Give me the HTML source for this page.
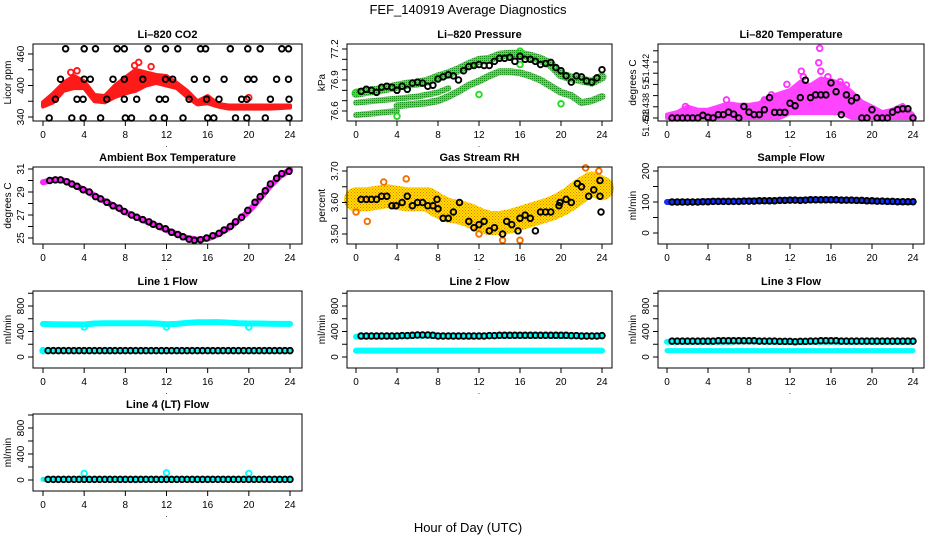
<!DOCTYPE html>
<html><head><meta charset="utf-8"><title>FEF_140919 Average Diagnostics</title>
<style>
html,body{margin:0;padding:0;background:#fff;}
svg{display:block;font-family:"Liberation Sans",Arial,sans-serif;}
</style></head>
<body>
<svg id="chart" width="936" height="540" viewBox="0 0 936 540" xmlns="http://www.w3.org/2000/svg">
<defs>
<pattern id="rhpat" width="3" height="3" patternUnits="userSpaceOnUse"><rect width="3" height="3" fill="#ffe000"/><rect width="1" height="1" fill="#f07000"/><rect x="1.5" y="1.5" width="1" height="1" fill="#f07000"/></pattern>
<pattern id="grpat" width="2" height="2" patternUnits="userSpaceOnUse"><rect width="2" height="2" fill="#33ee33"/><rect width="1" height="1" fill="#1a901a"/></pattern>
</defs>
<text x="468" y="14" text-anchor="middle" font-size="13">FEF_140919  Average Diagnostics</text>
<text x="468" y="532" text-anchor="middle" font-size="13">Hour of Day (UTC)</text>
</svg>
<script>
// ---------- DATA ----------
const xTicks=[0,4,8,12,16,20,24];
// CO2
const co2Hours=[2.2,4.0,5.1,7.2,7.9,10.2,11.9,13.1,15.3,15.8,18.2,19.9,21.1,23.2,23.85,
1.7,4.0,4.6,6.8,7.9,9.7,11.9,12.6,14.7,15.9,17.6,19.9,20.5,22.7,23.85,
1.2,3.3,3.9,6.2,7.9,9.1,11.3,11.9,14.2,15.9,17.1,19.3,19.8,22.1,23.9,
0.6,2.8,3.9,5.6,8.0,8.6,10.7,11.8,13.6,16.0,16.6,18.7,19.8,21.6,23.9];
const co2Values=[470,470,470,470,470,470,470,470,470,470,470,470,470,470,470,
412,412,412,412,412,412,412,412,412,412,412,412,412,412,412,
374,374,374,374,374,374,374,374,374,374,374,374,374,374,374,
338,338,338,338,338,338,338,338,338,338,338,338,338,338,338];
const hourly=[0,1,2,3,4,5,6,7,8,9,10,11,12,13,14,15,16,17,18,19,20,21,22,23,24];
const co2RedUpper=[368,385,405,418,408,382,380,400,415,430,425,420,418,405,390,370,380,365,362,362,362,362,362,362,362];
const co2RedLower=[360,368,390,395,395,370,368,378,385,390,400,405,400,395,378,364,366,360,356,356,356,356,356,357,358];
const co2OutHours=[9.3,2.7,10.5,20,8.9,3.3];
const co2OutValues=[444,425,436,377,438,428];
// Pressure
const presA=[76.77,76.79,76.8,76.82,76.84,76.86,76.87,76.89,76.93,76.96,77.0,77.05,77.09,77.1,77.14,77.15,77.15,77.13,77.1,77.05,76.95,76.92,76.9,76.88,76.93];
const presB=[76.68,76.69,76.7,76.71,76.72,76.73,76.74,76.76,76.78,76.82,null,null,null,null,null,null,null,null,null,null,null,null,null,null,null];
const presC=[null,null,null,null,76.65,76.66,76.67,76.68,76.7,76.74,76.79,76.85,76.89,76.94,76.98,76.98,76.97,76.94,76.9,76.84,76.78,76.75,76.68,76.7,76.74];
const presD=[76.56,76.57,76.58,76.59,76.6,null,null,null,null,null,null,null,null,null,null,null,null,null,null,null,null,null,null,null,null];
const halfHours=[0.5,1,1.5,2,2.5,3,3.5,4,4.5,5,5.5,6,6.5,7,7.5,8,8.5,9,9.5,10,10.5,11,11.5,12,12.5,13,13.5,14,14.5,15,15.5,16,16.5,17,17.5,18,18.5,19,19.5,20,20.5,21,21.5,22,22.5,23,23.5,24];
const presBlack=[76.79,76.81,76.8,76.78,76.83,76.84,76.83,76.8,76.84,76.81,76.87,76.88,76.87,76.84,76.85,76.91,76.93,76.95,76.94,76.9,76.99,77.03,77.04,77.05,77.04,77.04,77.08,77.11,77.11,77.12,77.08,77.13,77.1,77.1,77.08,77.05,77.06,77.07,77.02,76.99,76.94,76.88,76.94,76.93,76.89,76.88,76.92,77.0];
const presOutHours=[0,4,12,16,16,20,8];
const presOutValues=[76.78,76.55,76.76,77.18,77.05,76.67,76.92];
// Li-820 temperature
const tempBlack=[51.438,51.438,51.438,51.438,51.438,51.438,51.43819,51.43805,51.438,51.43824,51.43824,51.43842,51.43828,51.438,51.43882,51.43842,51.43824,51.43824,51.43859,51.43946,51.4384,51.4384,51.4384,51.43906,51.43887,51.43946,51.4407,51.43946,51.43965,51.43965,51.43965,51.44051,51.43988,51.43824,51.43965,51.43922,51.43946,51.438,51.438,51.43859,51.438,51.438,51.438,51.43842,51.43859,51.43866,51.43866,51.438];
const tempUpper=[51.43824,51.43842,51.43882,51.43859,51.43859,51.43882,51.43906,51.43894,51.43894,51.43906,51.43953,51.43976,51.44,51.44059,51.44035,51.44082,51.4407,51.44047,51.43988,51.43918,51.43882,51.43842,51.43859,51.43894,51.43824];
const tempLower=[51.438,51.438,51.438,51.438,51.438,51.438,51.438,51.438,51.438,51.438,51.438,51.438,51.43835,51.43835,51.43835,51.43835,51.43835,51.43835,51.438,51.438,51.438,51.438,51.438,51.438,51.438];
const tempOutHours=[14.9,14.8,15.0,13.1,15.7,11.7,13.3,5.8,9.5,1.8,10.2,16.9,17.5];
const tempOutValues=[51.44298,51.44195,51.44134,51.44134,51.44094,51.4404,51.44094,51.43929,51.43929,51.43882,51.43965,51.44059,51.44035];
const tempTicks=[51.438,51.4388,51.4396,51.4404,51.4412,51.442,51.4428];
const tempLabelValues=[51.43765,51.4388,51.4404,51.4416];
const tempLabels=['51.438','51.438','51','51.442'];
// Ambient box temperature
const ambHours=[0.65,1.2,1.7,2.3,2.8,3.3,3.9,4.5,5.1,5.6,6.2,6.8,7.4,7.9,8.6,9.1,9.7,10.3,10.7,11.3,11.9,12.5,13.1,13.6,14.2,14.7,15.3,15.9,16.5,17.1,17.6,18.2,18.7,19.3,19.9,20.6,21.1,21.6,22.1,22.7,23.2,23.9];
const ambValues=[30.0,30.05,30.05,29.9,29.7,29.5,29.2,29.0,28.6,28.4,28.1,27.8,27.6,27.3,27.0,26.8,26.6,26.4,26.2,26.0,25.8,25.5,25.3,25.1,24.9,24.8,24.85,25.0,25.2,25.4,25.7,26.0,26.4,26.8,27.4,28.1,28.6,29.1,29.7,30.2,30.6,30.8];
const ambBand=[29.85,30.05,30.0,29.6,29.2,28.7,28.2,27.75,27.25,26.85,26.45,26.1,25.7,25.35,25.0,24.85,24.95,25.3,25.85,26.55,27.35,28.35,29.45,30.35,30.95];
// Gas stream RH
const rhHours=[0.5,1,1.5,2,2.5,3,3.5,3.9,4.5,5,5.5,6,6.5,7,7.5,7.9,8,8.5,9,9.5,10.1,11,11.5,12,12.5,13,13.5,14.3,14.7,15.2,15.8,16,16.5,17,17.5,18,18.5,19,19.8,19.9,20.5,21,21.6,22,22.7,23.2,23.8,23.8,23.9];
const rhValues=[3.61,3.61,3.61,3.61,3.62,3.62,3.59,3.59,3.60,3.62,3.59,3.60,3.60,3.59,3.59,3.61,3.58,3.55,3.55,3.57,3.60,3.54,3.52,3.53,3.54,3.51,3.52,3.50,3.54,3.53,3.51,3.55,3.56,3.55,3.51,3.57,3.57,3.57,3.59,3.60,3.61,3.60,3.66,3.65,3.62,3.64,3.67,3.62,3.57];
const rhBand=[3.61,3.61,3.615,3.62,3.615,3.61,3.61,3.61,3.59,3.575,3.57,3.56,3.545,3.535,3.535,3.54,3.55,3.56,3.57,3.58,3.595,3.615,3.64,3.66,3.645];
const rhOutHours=[4.9,1.1,14.3,16,22.4,23.7,12,0,2.7];
const rhOutValues=[3.675,3.54,3.48,3.48,3.71,3.70,3.50,3.57,3.665];
// Sample flow
const sampleBand=[100,100,100,100,102,102,102,102,104,104,104,105,106,106,107,107,107,106,105,104,103,102,101,100,100];
const sampleBlack=[100,100,100,100,100,100,101,101,102,102,102,102,102,102,103,103,103,104,104,104,104,105,105,106,106,105,106,107,107,107,107,107,107,106,106,106,105,105,104,104,103,103,102,102,101,101,101,101];
// Line flows
const line1Cyan=[520,515,512,512,510,525,528,530,530,530,528,525,515,520,535,545,545,548,540,530,525,525,522,520,520];
const line1Low=[100,100,100,100,100,100,100,100,100,100,100,100,100,100,100,100,100,100,100,100,100,100,100,100,100];
const line1Black=[100,100,100,100,100,100,100,100,100,100,100,100,100,100,100,100,100,100,100,100,100,100,100,100,100,100,100,100,100,100,100,100,100,100,100,100,100,100,100,100,100,100,100,100,100,100,100,100];
const line1OutHours=[4,12,20,0];
const line1OutValues=[470,470,470,100];
const line2Cyan=[320,322,322,325,330,330,335,335,330,328,325,320,325,330,332,335,335,335,335,333,330,330,330,330,330];
const line2Low=[100,100,100,100,100,100,100,100,100,100,100,100,100,100,100,100,100,100,100,100,100,100,100,100,100];
const line2Black=[330,330,330,330,330,330,330,330,335,335,340,345,345,345,340,330,330,330,330,330,330,330,330,330,330,335,335,340,340,340,340,340,340,340,340,340,340,340,340,340,340,335,335,330,330,330,330,335];
const line3Cyan=[240,240,240,240,240,240,240,245,245,245,240,240,235,235,240,240,240,240,240,240,240,240,240,240,240];
const line3Low=[100,100,100,100,100,100,100,100,100,100,100,100,100,100,100,100,100,100,100,100,100,100,100,100,100];
const line3Black=[250,250,250,250,250,250,250,250,250,255,255,255,255,255,255,255,255,250,250,250,250,245,245,245,240,245,245,250,250,255,255,255,255,250,250,250,250,250,250,250,250,250,250,250,250,250,250,250];
const line4Cyan=[10,10,10,10,10,10,10,10,10,10,10,10,10,10,10,10,10,10,10,10,10,10,10,10,10];
const line4Black=[10,10,10,10,10,10,10,10,10,10,10,10,10,10,10,10,10,10,10,10,10,10,10,10,10,10,10,10,10,10,10,10,10,10,10,10,10,10,10,10,10,10,10,10,10,10,10,10];
const line4OutHours=[4,12,20];
const line4OutValues=[100,110,100];

// ---------- DRAWING ----------
const NS='http://www.w3.org/2000/svg';
const svg=document.getElementById('chart');
function mk(tag,attrs,parent){const e=document.createElementNS(NS,tag);for(const k in attrs)e.setAttribute(k,attrs[k]);(parent||svg).appendChild(e);return e;}
const COLS=[{l:33,r:302,x0:43,x24:290},{l:347,r:612,x0:356,x24:602},{l:658,r:924,x0:667,x24:913}];
const ROWS=[44,167,291,414];
const H=77;

function panel(name,col,row,title,ylab,v0,o0,v1,o1,ticks,labVals,labs,labSize){
  const c=COLS[col],top=ROWS[row],bot=top+H;
  const g=mk('g',{});
  
  
  const x=h=>c.x0+(c.x24-c.x0)*h/24;
  const p0=top+o0,p1=top+o1;
  const y=v=>p0+(v-v0)*(p1-p0)/(v1-v0);
  const t=mk('text',{x:(c.l+c.r)/2,y:top-6,'text-anchor':'middle','font-size':'11','font-weight':'bold'},g);
  t.textContent=title;
  
  
  const pl=mk('g',{},g);
  
  
  const box=mk('rect',{x:c.l,y:top,width:c.r-c.l,height:H,fill:'none',stroke:'#000','stroke-width':1},g);
  
  
  const xa=mk('g',{},g);
  
  
  mk('line',{x1:x(0),x2:x(24),y1:bot,y2:bot,stroke:'#000'},xa);
  xTicks.forEach(v=>{
    mk('line',{x1:x(v),x2:x(v),y1:bot,y2:bot+5,stroke:'#000'},xa);
    const tl=mk('text',{x:x(v),y:bot+17,'text-anchor':'middle','font-size':'10'},xa);
    tl.textContent=v;
    
    
  });
  const dot=mk('text',{x:x(12),y:bot+26,'text-anchor':'middle','font-size':'8'},xa);
  dot.textContent='.';
  const ya=mk('g',{},g);
  
  
  ticks.forEach(v=>{const yy=y(v);mk('line',{x1:c.l-5,x2:c.l,y1:yy,y2:yy,stroke:'#000'},ya);});
  labVals.forEach((v,i)=>{
    const yy=y(v),xx=c.l-9;
    const tl=mk('text',{x:xx,y:yy,'text-anchor':'middle','font-size':labSize||'10',transform:'rotate(-90 '+xx+' '+yy+')'},ya);
    tl.textContent=labs[i];
    
    
  });
  const xx=c.l-22,yy=(top+bot)/2;
  const yl=mk('text',{x:xx,y:yy,'text-anchor':'middle','font-size':'10',transform:'rotate(-90 '+xx+' '+yy+')'},g);
  yl.textContent=ylab;
  
  
  return {x,y,g:pl};
}
function band(P,hours,vals,color,w,name){
  let seg=[];const segs=[];
  vals.forEach((v,i)=>{if(v==null){if(seg.length)segs.push(seg);seg=[];}else seg.push(P.x(hours[i]).toFixed(1)+','+P.y(v).toFixed(1));});
  if(seg.length)segs.push(seg);
  segs.forEach(s=>{
    const pl=mk('polyline',{points:s.join(' '),fill:'none',stroke:color,'stroke-width':w,'stroke-linecap':'round','stroke-linejoin':'round'},P.g);
    
    
  });
}
function area(P,hours,lo,hi,color,name){
  const pts=hours.map((h,i)=>P.x(h).toFixed(1)+','+P.y(hi[i]).toFixed(1)).concat(hours.slice().reverse().map((h,j)=>{const i=hours.length-1-j;return P.x(h).toFixed(1)+','+P.y(lo[i]).toFixed(1);}));
  const pg=mk('polygon',{points:pts.join(' '),fill:color,stroke:color,'stroke-width':4,'stroke-linejoin':'round'},P.g);
  
  
}
function pts(P,hours,vals,color,name,r,sw){
  hours.forEach((h,i)=>{
    const c=mk('circle',{cx:P.x(h).toFixed(1),cy:P.y(vals[i]).toFixed(1),r:r||2.8,fill:'none',stroke:color,'stroke-width':sw||1.9},P.g);
    
    
  });
}

// Li-820 CO2
let P=panel('co2',0,0,'Li\u2013820 CO2','Licor ppm',340,73,460,10,[340,370,400,430,460],[340,400,460],['340','400','460']);
area(P,hourly,co2RedLower,co2RedUpper,'#ff1a1a','co2-red-band');
pts(P,co2OutHours,co2OutValues,'#ff1a1a','co2-red-point');
pts(P,co2Hours,co2Values,'#000','co2-black-point');

// Pressure
P=panel('pressure',1,0,'Li\u2013820 Pressure','kPa',76.6,67,77.2,5,[76.6,76.7,76.8,76.9,77.0,77.1,77.2],[76.6,76.9,77.2],['76.6','76.9','77.2']);
band(P,hourly,presA,'url(#grpat)',9,'pressure-green-band');
band(P,hourly,presB,'url(#grpat)',6,'pressure-green-band');
band(P,hourly,presC,'url(#grpat)',7,'pressure-green-band');
band(P,hourly,presD,'url(#grpat)',6,'pressure-green-band');
pts(P,presOutHours,presOutValues,'#22dd22','pressure-green-point');
pts(P,halfHours,presBlack,'#000','pressure-black-point');

// Li-820 Temperature
P=panel('li820-temp',2,0,'Li\u2013820 Temperature','degrees C',51.438,74,51.442,18,tempTicks,tempLabelValues,tempLabels,'9');
area(P,hourly,tempLower,tempUpper,'#ff44ff','temp-magenta-band');
pts(P,tempOutHours,tempOutValues,'#ff33ff','temp-magenta-point');
pts(P,halfHours,tempBlack,'#000','temp-black-point');

// Ambient
P=panel('ambient',0,1,'Ambient Box Temperature','degrees C',25,71,31,2,[25,26,27,28,29,30,31],[25,27,29,31],['25','27','29','31']);
band(P,hourly,ambBand,'#ff22ff',6,'ambient-magenta-line');
pts(P,ambHours,ambValues,'#000','ambient-black-point');

// RH
P=panel('rh',1,1,'Gas Stream RH','percent',3.5,67,3.7,4,[3.5,3.55,3.6,3.65,3.7],[3.5,3.6,3.7],['3.50','3.60','3.70']);
band(P,hourly,rhBand,'url(#rhpat)',24,'rh-orange-band');
pts(P,rhOutHours,rhOutValues,'#f07000','rh-orange-point');
pts(P,rhHours,rhValues,'#000','rh-black-point');

// Sample flow
P=panel('sample-flow',2,1,'Sample Flow','ml/min',0,66,200,4,[0,50,100,150,200],[0,100,200],['0','100','200']);
band(P,hourly,sampleBand,'#1030ff',6,'sample-blue-band');
pts(P,halfHours,sampleBlack,'#000','sample-black-point');

const flowTicks=[0,200,400,600,800,1000],flowLabV=[0,400,800],flowLabs=['0','400','800'];
// Line 1
P=panel('line1',0,2,'Line 1 Flow','ml/min',0,66,800,15,flowTicks,flowLabV,flowLabs);
band(P,hourly,line1Cyan,'#00ffff',6,'line1-cyan-band');
band(P,hourly,line1Low,'#00ffff',5,'line1-cyan-low-band');
pts(P,line1OutHours,line1OutValues,'#00ffff','line1-cyan-point');
pts(P,halfHours,line1Black,'#000','line1-black-point');
// Line 2
P=panel('line2',1,2,'Line 2 Flow','ml/min',0,66,800,15,flowTicks,flowLabV,flowLabs);
band(P,hourly,line2Cyan,'#00ffff',6,'line2-cyan-band');
band(P,hourly,line2Low,'#00ffff',6,'line2-cyan-low-band');
pts(P,halfHours,line2Black,'#000','line2-black-point');
// Line 3
P=panel('line3',2,2,'Line 3 Flow','ml/min',0,66,800,15,flowTicks,flowLabV,flowLabs);
band(P,hourly,line3Cyan,'#00ffff',6,'line3-cyan-band');
band(P,hourly,line3Low,'#00ffff',5,'line3-cyan-low-band');
pts(P,halfHours,line3Black,'#000','line3-black-point');
// Line 4
P=panel('line4',0,3,'Line 4 (LT) Flow','ml/min',0,66,800,14,flowTicks,flowLabV,flowLabs);
band(P,hourly,line4Cyan,'#00ffff',5,'line4-cyan-band');
pts(P,line4OutHours,line4OutValues,'#00ffff','line4-cyan-point');
pts(P,halfHours,line4Black,'#000','line4-black-point');
</script>
</body></html>
